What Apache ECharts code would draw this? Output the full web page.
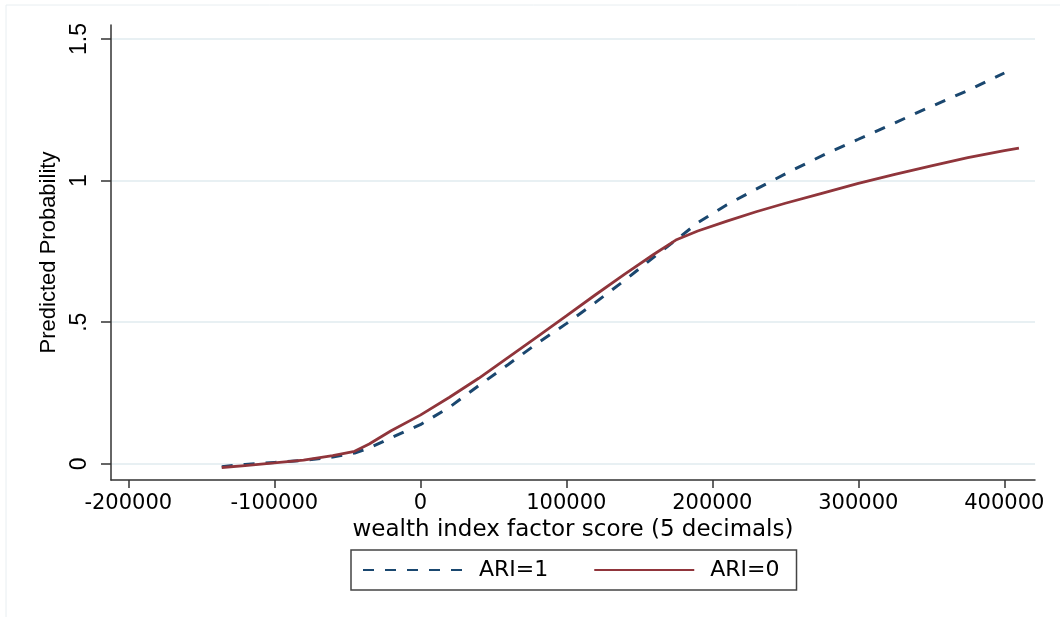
<!DOCTYPE html>
<html>
<head>
<meta charset="utf-8">
<script src="https://cdn.jsdelivr.net/npm/echarts@6/dist/echarts.min.js"></script>
<style>
  html, body { margin: 0; padding: 0; background: #fff; }
  #chart { width: 1060px; height: 617px; }
</style>
</head>
<body>
<div id="chart"></div>
<script>
// ---- data ----
const seriesNames = ['ARI=1', 'ARI=0'];

const ari1X = [-136000, -120000, -100000, -80000, -60000, -45000, -35000, -20000, 0, 20000, 40000, 60000, 80000, 100000, 120000, 140000, 160000, 175000, 190000, 210000, 230000, 255000, 280000, 300000, 325000, 350000, 375000, 400000];
const ari1Y = [-0.010, -0.002, 0.005, 0.012, 0.024, 0.038, 0.056, 0.092, 0.138, 0.200, 0.276, 0.350, 0.425, 0.495, 0.570, 0.648, 0.730, 0.790, 0.851, 0.915, 0.970, 1.037, 1.100, 1.146, 1.204, 1.262, 1.318, 1.380];

const ari0X = [-136000, -120000, -100000, -80000, -60000, -45000, -35000, -20000, 0, 20000, 40000, 60000, 80000, 100000, 120000, 140000, 160000, 175000, 190000, 210000, 230000, 250000, 275000, 300000, 325000, 350000, 375000, 400000, 410000];
const ari0Y = [-0.013, -0.006, 0.003, 0.013, 0.029, 0.044, 0.070, 0.117, 0.172, 0.235, 0.302, 0.375, 0.448, 0.522, 0.597, 0.670, 0.740, 0.790, 0.822, 0.857, 0.890, 0.920, 0.955, 0.990, 1.022, 1.052, 1.081, 1.106, 1.115];

const xTickValues = [-200000, -100000, 0, 100000, 200000, 300000, 400000];
const xTickLabels = ['-200000', '-100000', '0', '100000', '200000', '300000', '400000'];
const yTickValues = [0, 0.5, 1, 1.5];
const yTickLabels = ['0', '.5', '1', '1.5'];

const xTitle = 'wealth index factor score (5 decimals)';
const yTitle = 'Predicted Probability';

// ---- build ----
const zip = (xs, ys) => xs.map((x, i) => [x, ys[i]]);
const labelFor = (vals, labels) => v => {
  const i = vals.findIndex(t => Math.abs(t - v) < 1e-9);
  return i >= 0 ? labels[i] : '';
};
const AXIS_COLOR = '#333';

const chart = echarts.init(document.getElementById('chart'), null, { renderer: 'canvas' });
chart.setOption({
  backgroundColor: '#ffffff',
  animation: false,
  graphic: [{
    type: 'rect', z: -10, silent: true,
    shape: { x: 6, y: 5, width: 1200, height: 800 },
    style: { fill: 'none', stroke: '#e8eef1', lineWidth: 1 }
  }],
  grid: { left: 111, right: 25, top: 25, bottom: 137, containLabel: false },
  xAxis: {
    type: 'value',
    min: -211850, max: 421000,
    axisLine: { show: true, onZero: false, lineStyle: { color: AXIS_COLOR, width: 1.5 } },
    axisTick: { show: true, customValues: xTickValues, length: 8, lineStyle: { color: AXIS_COLOR, width: 1.5 } },
    axisLabel: {
      customValues: xTickValues, margin: 13, color: '#000',
      fontFamily: 'DejaVu Sans', fontSize: 21,
      formatter: labelFor(xTickValues, xTickLabels)
    },
    splitLine: { show: false },
    name: xTitle, nameLocation: 'middle', nameGap: 37,
    nameTextStyle: { color: '#000', fontFamily: 'DejaVu Sans', fontSize: 23 }
  },
  yAxis: {
    type: 'value',
    min: -0.0571, max: 1.5494,
    axisLine: { show: true, onZero: false, lineStyle: { color: AXIS_COLOR, width: 1.5 } },
    axisTick: { show: true, customValues: yTickValues, length: 10, lineStyle: { color: AXIS_COLOR, width: 1.5 } },
    axisLabel: {
      customValues: yTickValues, rotate: 90, margin: 20, color: '#000',
      fontFamily: 'Liberation Sans', fontSize: 23,
      formatter: labelFor(yTickValues, yTickLabels)
    },
    splitLine: { show: true, lineStyle: { color: '#e8f0f3', width: 2 } },
    name: yTitle, nameLocation: 'middle', nameRotate: 90, nameGap: 51,
    nameTextStyle: { color: '#000', fontFamily: 'Liberation Sans', fontSize: 22 }
  },
  legend: {
    data: seriesNames,
    left: 351, top: 550,
    orient: 'horizontal',
    padding: [9, 17, 9, 11],
    itemWidth: 100, itemHeight: 14, itemGap: 45,
    borderColor: '#444', borderWidth: 1.5, borderRadius: 0,
    backgroundColor: '#fff',
    itemStyle: { color: 'rgba(0,0,0,0)', borderWidth: 0, opacity: 0 },
    textStyle: { color: '#000', fontFamily: 'DejaVu Sans', fontSize: 22, padding: [0, 0, 0, 11] }
  },
  series: [
    {
      name: seriesNames[0], type: 'line', data: zip(ari1X, ari1Y),
      symbol: 'none', showSymbol: false, smooth: false, z: 2,
      lineStyle: { color: '#1a476f', width: 3, type: [11, 11] },
      itemStyle: { color: '#1a476f' }
    },
    {
      name: seriesNames[1], type: 'line', data: zip(ari0X, ari0Y),
      symbol: 'none', showSymbol: false, smooth: false, z: 3,
      lineStyle: { color: '#90353b', width: 2.8, type: 'solid' },
      itemStyle: { color: '#90353b' }
    }
  ]
});
</script>
</body>
</html>
